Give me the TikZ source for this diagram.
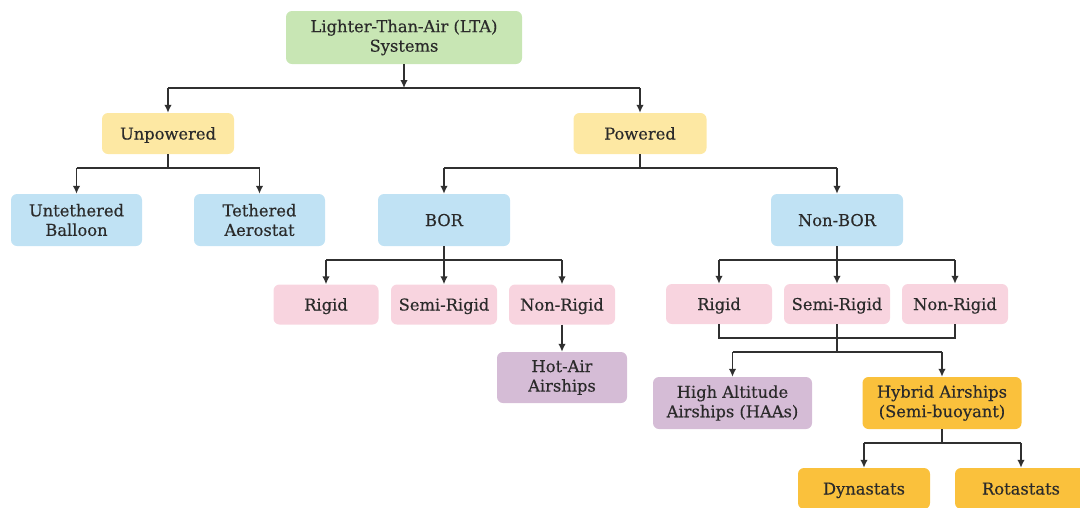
\documentclass[tikz,border=0pt]{standalone}
\usepackage{fontspec}
\newfontfamily\boxfont{DejaVu Serif}[FakeBold=0.35]
\usetikzlibrary{arrows.meta}

\definecolor{ltagreen}{HTML}{C8E6B4}
\definecolor{poweryellow}{HTML}{FDE8A3}
\definecolor{typeblue}{HTML}{C0E2F4}
\definecolor{hullpink}{HTML}{F8D4DF}
\definecolor{craftpurple}{HTML}{D5BCD6}
\definecolor{hybridorange}{HTML}{FAC13C}
\definecolor{wire}{HTML}{303030}
\definecolor{ink}{HTML}{2A2A2A}

\tikzset{
  box/.style={rounded corners=6pt, inner sep=0pt, align=center, text=ink,
              text height=14pt, text depth=2pt,
              font=\boxfont\fontsize{16.3}{19.5}\selectfont},
  twoline/.style={text height=, text depth=},
  bus/.style={draw=wire, line width=1.5pt},
  link/.style={bus, -{Latex[length=8pt,width=7.5pt]}},
}

\begin{document}
\begin{tikzpicture}[x=1pt,y=-1pt]
\useasboundingbox (0,0) rectangle (1080,507);
\clip (0,0) rectangle (1080,507);

% --- nodes ---
\node[box, twoline, fill=ltagreen, minimum width=236pt, minimum height=53pt] (lta) at (404,37.5) {Lighter-Than-Air (LTA)\\Systems};

\node[box, fill=poweryellow, minimum width=132pt, minimum height=41pt] (unp) at (168,133.5) {Unpowered};
\node[box, fill=poweryellow, minimum width=133pt, minimum height=41pt] (pow) at (640,133.5) {Powered};

\node[box, twoline, fill=typeblue, minimum width=131pt, minimum height=52pt] (unt) at (76.5,220) {Untethered\\Balloon};
\node[box, twoline, fill=typeblue, minimum width=131pt, minimum height=52pt] (teth) at (259.5,220) {Tethered\\Aerostat};
\node[box, fill=typeblue, minimum width=132pt, minimum height=52pt] (bor) at (444,220) {BOR};
\node[box, fill=typeblue, minimum width=132pt, minimum height=52pt] (nbor) at (837,220) {Non-BOR};

\node[box, fill=hullpink, minimum width=105pt, minimum height=40pt] (r1) at (326,304.5) {Rigid};
\node[box, fill=hullpink, minimum width=106pt, minimum height=40pt] (s1) at (444,304.5) {Semi-Rigid};
\node[box, fill=hullpink, minimum width=106pt, minimum height=40pt] (n1) at (562,304.5) {Non-Rigid};

\node[box, twoline, fill=craftpurple, minimum width=130pt, minimum height=51pt] (hot) at (562,377.5) {Hot-Air\\Airships};

\node[box, fill=hullpink, minimum width=106pt, minimum height=40pt] (r2) at (719,304) {Rigid};
\node[box, fill=hullpink, minimum width=106pt, minimum height=40pt] (s2) at (837,304) {Semi-Rigid};
\node[box, fill=hullpink, minimum width=106pt, minimum height=40pt] (n2) at (955,304) {Non-Rigid};

\node[box, twoline, fill=craftpurple, minimum width=159pt, minimum height=52pt] (haa) at (732.5,403) {High Altitude\\Airships (HAAs)};
\node[box, twoline, fill=hybridorange, minimum width=159pt, minimum height=52pt] (hyb) at (942,403) {Hybrid Airships\\(Semi-buoyant)};

\node[box, fill=hybridorange, minimum width=132pt, minimum height=41pt] (dyn) at (864,488.5) {Dynastats};
\node[box, fill=hybridorange, minimum width=132pt, minimum height=41pt] (rot) at (1021,488.5) {Rotastats};

% --- junction points of the buses ---
\coordinate (j0) at (404,88);
\coordinate (j1) at (168,168);
\coordinate (j2) at (640,168);
\coordinate (j3) at (444,260);
\coordinate (j4) at (837,260);
\coordinate (j5) at (837,338);
\coordinate (j6) at (837,352);
\coordinate (j7) at (942,443);

% LTA -> Unpowered / Powered
\draw[link] (lta) -- (j0);
\draw[bus] (unp.north |- j0) -- (pow.north |- j0);
\draw[link] (unp.north |- j0) -- (unp.north);
\draw[link] (pow.north |- j0) -- (pow.north);

% Unpowered -> balloons
\draw[bus] (unp) -- (j1);
\draw[bus] (unt.north |- j1) -- (teth.north |- j1);
\draw[link] (unt.north |- j1) -- (unt.north);
\draw[link] (teth.north |- j1) -- (teth.north);

% Powered -> BOR / Non-BOR
\draw[bus] (pow) -- (j2);
\draw[bus] (bor.north |- j2) -- (nbor.north |- j2);
\draw[link] (bor.north |- j2) -- (bor.north);
\draw[link] (nbor.north |- j2) -- (nbor.north);

% BOR -> hull types
\draw[bus] (bor) -- (j3);
\draw[bus] (r1.north |- j3) -- (n1.north |- j3);
\draw[link] (r1.north |- j3) -- (r1.north);
\draw[link] (s1.north |- j3) -- (s1.north);
\draw[link] (n1.north |- j3) -- (n1.north);
\draw[link] (n1) -- (hot);

% Non-BOR -> hull types
\draw[bus] (nbor) -- (j4);
\draw[bus] (r2.north |- j4) -- (n2.north |- j4);
\draw[link] (r2.north |- j4) -- (r2.north);
\draw[link] (s2.north |- j4) -- (s2.north);
\draw[link] (n2.north |- j4) -- (n2.north);

% hull types merge -> HAAs / Hybrid
\draw[bus] (r2.south) -- (r2.south |- j5) -- (n2.south |- j5) -- (n2.south);
\draw[bus] (s2) -- (j6);
\draw[bus] (haa.north |- j6) -- (hyb.north |- j6);
\draw[link] (haa.north |- j6) -- (haa.north);
\draw[link] (hyb.north |- j6) -- (hyb.north);

% Hybrid -> Dynastats / Rotastats
\draw[bus] (hyb) -- (j7);
\draw[bus] (dyn.north |- j7) -- (rot.north |- j7);
\draw[link] (dyn.north |- j7) -- (dyn.north);
\draw[link] (rot.north |- j7) -- (rot.north);
\end{tikzpicture}
\end{document}
